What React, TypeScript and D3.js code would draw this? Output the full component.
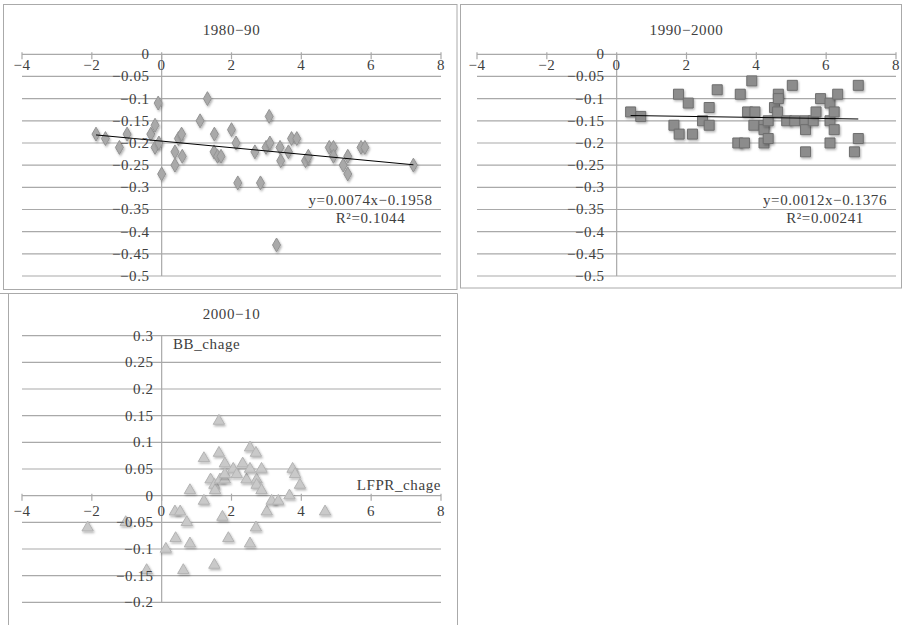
import React from "react";
import { scaleLinear, symbol, symbolDiamond, symbolSquare, symbolTriangle } from "d3";

// 1980-90 (LFPR change vs BB change)
const p1X = [-1.88, -1.61, -1.21, -0.99, -0.31, -0.19, -0.19, -0.1, -0.08, 0, 0.38, 0.38, 0.48, 0.57, 0.59, 1.1, 1.31, 1.51, 1.5, 1.6, 1.7, 2.0, 2.13, 2.18, 2.67, 2.83, 3.08, 2.99, 3.1, 3.39, 3.41, 3.29, 3.63, 3.72, 3.87, 4.12, 4.2, 4.8, 4.92, 4.92, 5.2, 5.33, 5.33, 5.71, 5.82, 7.21];
const p1Y = [-0.18, -0.19, -0.21, -0.18, -0.18, -0.16, -0.21, -0.11, -0.2, -0.27, -0.22, -0.25, -0.19, -0.18, -0.23, -0.15, -0.1, -0.18, -0.22, -0.23, -0.23, -0.17, -0.2, -0.29, -0.22, -0.29, -0.14, -0.21, -0.2, -0.21, -0.24, -0.43, -0.22, -0.19, -0.19, -0.24, -0.23, -0.21, -0.21, -0.23, -0.25, -0.23, -0.27, -0.21, -0.21, -0.25];

// 1990-2000
const p2X = [0.4, 0.69, 1.64, 1.77, 1.79, 2.05, 2.17, 2.46, 2.65, 2.65, 2.88, 3.47, 3.54, 3.66, 3.75, 3.87, 3.96, 3.93, 4.22, 4.22, 4.22, 4.34, 4.34, 4.52, 4.63, 4.63, 4.61, 4.87, 5.03, 5.1, 5.39, 5.41, 5.41, 5.63, 5.71, 5.84, 6.11, 6.11, 6.11, 6.23, 6.23, 6.33, 6.81, 6.92, 6.92];
const p2Y = [-0.13, -0.14, -0.16, -0.09, -0.18, -0.11, -0.18, -0.15, -0.12, -0.16, -0.08, -0.2, -0.09, -0.2, -0.13, -0.06, -0.13, -0.16, -0.16, -0.17, -0.2, -0.19, -0.15, -0.12, -0.09, -0.1, -0.13, -0.15, -0.07, -0.15, -0.15, -0.17, -0.22, -0.15, -0.13, -0.1, -0.11, -0.15, -0.2, -0.13, -0.17, -0.09, -0.22, -0.07, -0.19];

// 2000-10
const p3X = [-2.12, -1.03, -0.43, 0.12, 0.38, 0.53, 0.4, 0.72, 0.81, 0.62, 0.81, 1.21, 1.21, 1.4, 1.51, 1.53, 1.51, 1.64, 1.64, 1.74, 1.67, 1.81, 1.81, 1.81, 1.91, 2.05, 2.15, 2.32, 2.43, 2.53, 2.53, 2.53, 2.7, 2.72, 2.72, 2.7, 2.86, 2.86, 3.01, 3.15, 3.34, 3.66, 3.75, 3.82, 3.96, 4.68];
const p3Y = [-0.06, -0.05, -0.14, -0.1, -0.03, -0.03, -0.08, -0.05, -0.09, -0.14, 0.01, 0.07, -0.01, 0.03, 0.02, 0.01, -0.13, 0.14, 0.08, -0.04, 0.03, 0.03, 0.06, 0.04, -0.08, 0.05, 0.04, 0.06, 0.03, 0.09, 0.05, -0.09, 0.08, 0.03, 0.02, -0.06, 0.05, 0.01, -0.03, -0.01, -0.01, 0, 0.05, 0.04, 0.02, -0.03];

const xTicks = [-4, -2, 0, 2, 4, 6, 8];
const yTicksA = [0, -0.05, -0.1, -0.15, -0.2, -0.25, -0.3, -0.35, -0.4, -0.45, -0.5];
const yTicksB = [0.3, 0.25, 0.2, 0.15, 0.1, 0.05, 0, -0.05, -0.1, -0.15, -0.2];

const titles = ["1980−90", "1990−2000", "2000−10"];
// trend lines as drawn: [slope, intercept, xFrom, xTo]
const trend1 = [-0.0074, -0.1958, -1.88, 7.21];
const trend2 = [-0.0012, -0.1376, 0.4, 6.92];
const eqLabels1 = ["y=0.0074x−0.1958", "R²=0.1044"];
const eqLabels2 = ["y=0.0012x−0.1376", "R²=0.00241"];

const FONT = "Liberation Serif, DejaVu Serif, Noto Serif, serif";
const GRID = "#a9a9a9";
const TEXT = "#404040";

const fmt = (v: number) => (v === 0 ? "0" : String(v).replace("-", "−"));

type PanelProps = {
  xs: number[];
  ys: number[];
  xRange: [number, number];
  yDomain: [number, number];
  yRange: [number, number];
  yTicks: number[];
  title: string;
  titleY: number;
  xLabelDy: number;
  yLabelGap: number;
  shape: "diamond" | "square" | "triangle";
  trend?: number[];
  eq?: string[];
  eqX?: number;
};

function Panel(p: PanelProps) {
  const x = scaleLinear().domain([-4, 8]).range(p.xRange);
  const y = scaleLinear().domain(p.yDomain).range(p.yRange);
  const x0 = x(0);
  const y0 = y(0);
  const symType = p.shape === "diamond" ? symbolDiamond : p.shape === "square" ? symbolSquare : symbolTriangle;
  const size = p.shape === "diamond" ? 56 : p.shape === "square" ? 100 : 56;
  const path = symbol().type(symType).size(size)() as string;
  const fill = p.shape === "diamond" ? "#a9a9a9" : p.shape === "square" ? "#8c8c8c" : "#c9c9c9";
  const stroke = p.shape === "diamond" ? "#939393" : p.shape === "square" ? "#6e6e6e" : "#b3b3b3";
  const midX = (p.xRange[0] + p.xRange[1]) / 2;
  return (
    <g fontFamily={FONT} fill={TEXT} fontSize={15} letterSpacing={0.6}>
      <text x={midX} y={p.titleY} textAnchor="middle" dominantBaseline="central">{p.title}</text>
      {p.yTicks.map((t) => (
        <line key={"g" + t} x1={p.xRange[0]} x2={p.xRange[1]} y1={y(t)} y2={y(t)} stroke={GRID} strokeWidth={1.2} />
      ))}
      <line x1={x0} x2={x0} y1={y(p.yDomain[0])} y2={y(p.yDomain[1])} stroke={GRID} strokeWidth={1.2} />
      {xTicks.map((t) => (
        <line key={"t" + t} x1={x(t)} x2={x(t)} y1={y0 - 2} y2={y0 + 5} stroke={GRID} strokeWidth={1.2} />
      ))}
      {p.xs.map((v, i) => (
        <path key={i} d={path} transform={`translate(${x(v)},${y(p.ys[i])})`} fill={fill} stroke={stroke} strokeWidth={1} filter="url(#shadow)" />
      ))}
      {p.trend && (
        <line
          x1={x(p.trend[2])}
          x2={x(p.trend[3])}
          y1={y(p.trend[0] * p.trend[2] + p.trend[1])}
          y2={y(p.trend[0] * p.trend[3] + p.trend[1])}
          stroke="#000"
          strokeWidth={1}
        />
      )}
      {xTicks.map((t) => (
        <text key={"x" + t} x={x(t)} y={y0 + p.xLabelDy} textAnchor="middle" dominantBaseline="central">{fmt(t)}</text>
      ))}
      {p.yTicks.map((t) => (
        <text key={"y" + t} x={x0 - p.yLabelGap} y={y(t)} textAnchor="end" dominantBaseline="central">{fmt(t)}</text>
      ))}
      {p.eq && p.eqX !== undefined && (
        <>
          <text x={p.eqX} y={200} textAnchor="middle" dominantBaseline="central">{p.eq[0]}</text>
          <text x={p.eqX} y={218} textAnchor="middle" dominantBaseline="central">{p.eq[1]}</text>
        </>
      )}
    </g>
  );
}

export default function App() {
  return (
    <div style={{ position: "absolute", left: 0, top: 0 }}>
      <svg width={903} height={625} style={{ display: "block", background: "#fff" }}>
        <defs>
          <filter id="shadow" x="-50%" y="-50%" width="200%" height="200%">
            <feDropShadow dx={1} dy={1.5} stdDeviation={1} floodColor="#000" floodOpacity={0.3} />
          </filter>
        </defs>
        <rect x={3.5} y={4.5} width={453.5} height={285} fill="none" stroke="#aaa" />
        <rect x={460.5} y={4.5} width={441} height={283.5} fill="none" stroke="#aaa" />
        <line x1={0} x2={457.5} y1={293.5} y2={293.5} stroke="#aaa" />
        <line x1={8.5} x2={8.5} y1={293.5} y2={625} stroke="#aaa" />
        <line x1={457.5} x2={457.5} y1={293.5} y2={625} stroke="#aaa" />

        <Panel xs={p1X} ys={p1Y} xRange={[22, 441]} yDomain={[0, -0.5]} yRange={[54.3, 276]} yTicks={yTicksA}
          title={titles[0]} titleY={30} xLabelDy={11} yLabelGap={12} shape="diamond" trend={trend1} eq={eqLabels1} eqX={370.5} />
        <Panel xs={p2X} ys={p2Y} xRange={[477, 896]} yDomain={[0, -0.5]} yRange={[54.3, 276]} yTicks={yTicksA}
          title={titles[1]} titleY={30} xLabelDy={11} yLabelGap={12} shape="square" trend={trend2} eq={eqLabels2} eqX={825} />
        <g>
          <Panel xs={p3X} ys={p3Y} xRange={[22, 441]} yDomain={[0.3, -0.2]} yRange={[335.7, 602.3]} yTicks={yTicksB}
            title={titles[2]} titleY={314} xLabelDy={15} yLabelGap={8} shape="triangle" />
          <text x={173} y={343.5} fontFamily={FONT} fontSize={15} letterSpacing={0.6} fill={TEXT} dominantBaseline="central">BB_chage</text>
          <text x={441} y={484.5} fontFamily={FONT} fontSize={15} letterSpacing={0.6} fill={TEXT} textAnchor="end" dominantBaseline="central">LFPR_chage</text>
        </g>
      </svg>
    </div>
  );
}
